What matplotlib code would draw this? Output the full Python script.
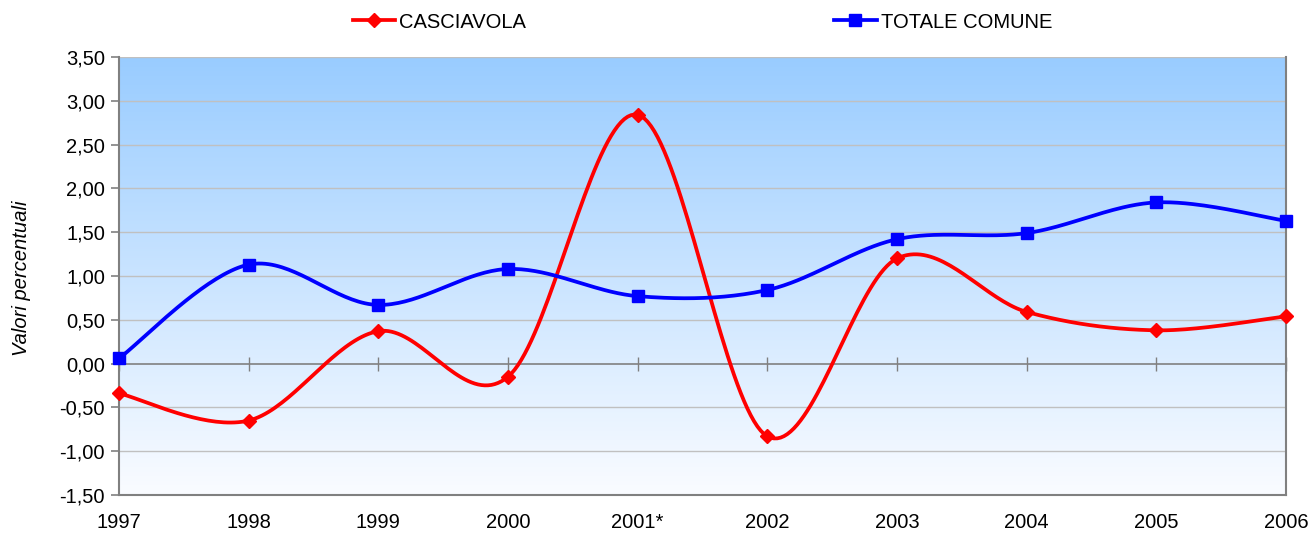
import numpy as np
import matplotlib
matplotlib.use("Agg")
import matplotlib.pyplot as plt
from matplotlib import font_manager
from matplotlib.lines import Line2D

years = ["1997", "1998", "1999", "2000", "2001*", "2002", "2003", "2004", "2005", "2006"]
casciavola = [-0.34, -0.65, 0.37, -0.15, 2.84, -0.83, 1.20, 0.59, 0.38, 0.54]
totale = [0.06, 1.13, 0.67, 1.08, 0.77, 0.84, 1.42, 1.49, 1.84, 1.63]
yticks = [-1.5, -1.0, -0.5, 0.0, 0.5, 1.0, 1.5, 2.0, 2.5, 3.0, 3.5]

names = {f.name for f in font_manager.fontManager.ttflist}
base_font = "Liberation Sans" if "Liberation Sans" in names else "DejaVu Sans"
plt.rcParams["font.family"] = [base_font, "DejaVu Sans"]


def smooth(xs, ys, n=40):
    xs = np.asarray(xs, float)
    ys = np.asarray(ys, float)
    P = np.column_stack([xs, ys])
    out = []
    for i in range(len(P) - 1):
        p0 = P[i - 1] if i > 0 else P[i]
        p1 = P[i]
        p2 = P[i + 1]
        p3 = P[i + 2] if i + 2 < len(P) else P[i + 1]
        c1 = p1 + (p2 - p0) / 6.0
        c2 = p2 - (p3 - p1) / 6.0
        t = np.linspace(0, 1, n)[:, None]
        seg = ((1 - t) ** 3) * p1 + 3 * ((1 - t) ** 2) * t * c1 + 3 * (1 - t) * t ** 2 * c2 + t ** 3 * p2
        out.append(seg if i == 0 else seg[1:])
    S = np.vstack(out)
    return S[:, 0], S[:, 1]


FS = 14.5
fig = plt.figure(figsize=(13.1, 5.33), dpi=100)
ax = fig.add_axes([119 / 1310, 38 / 533, (1286 - 119) / 1310, (495 - 57) / 533])

x = np.arange(len(years))
ax.set_xlim(0, len(years) - 1)
ax.set_ylim(-1.5, 3.5)

# gradient background
top = np.array([153, 204, 255]) / 255.0
bot = np.array([250, 252, 255]) / 255.0
tt = np.linspace(0, 1, 256)[:, None]
grad = (top * (1 - tt) + bot * tt)[:, None, :]
ax.imshow(grad, aspect="auto", extent=[0, 1, 0, 1], transform=ax.transAxes, zorder=0, interpolation="bilinear")

for v in yticks:
    if v != 0:
        ax.axhline(v, color="#C0C0C0", lw=1.0, zorder=1)
ax.axhline(0, color="#808080", lw=1.2, zorder=1.5)

LW = 2.7
sx, sy = smooth(x, casciavola)
ax.plot(sx, sy, color="#FF0000", lw=LW, zorder=3, solid_capstyle="round")
ax.plot(x, casciavola, linestyle="none", marker="D", color="#FF0000", markersize=7, zorder=4, clip_on=False)
sx, sy = smooth(x, totale)
ax.plot(sx, sy, color="#0000FF", lw=LW, zorder=3, solid_capstyle="round")
ax.plot(x, totale, linestyle="none", marker="s", color="#0000FF", markersize=8, zorder=4, clip_on=False)

ax.set_yticks(yticks)
ax.set_yticklabels([f"{v:.2f}".replace(".", ",") for v in yticks], fontsize=FS)
ax.set_xticks(x)
ax.set_xticklabels(years, fontsize=FS)
ax.tick_params(axis="x", length=0, pad=13)
ax.tick_params(axis="y", length=6, color="#808080", width=1.2, pad=4)

ax.spines["top"].set_visible(False)
for s in ["left", "bottom", "right"]:
    ax.spines[s].set_color("#808080")
    ax.spines[s].set_linewidth(1.5)

sec = ax.secondary_xaxis(1.5 / 5.0)
sec.set_xticks(x)
sec.set_xticklabels([])
sec.tick_params(axis="x", direction="inout", length=10, color="#808080", width=1.0)
sec.spines["bottom"].set_visible(False)
sec.spines["top"].set_visible(False)

fig.text(22 / 1310, 1 - 278 / 533, "Valori percentuali", rotation=90, ha="center", va="center",
         fontsize=FS, style="italic")

h1 = Line2D([], [], color="#FF0000", lw=LW, marker="D", markersize=7)
h2 = Line2D([], [], color="#0000FF", lw=LW, marker="s", markersize=8)
leg = fig.legend([h1, h2], ["CASCIAVOLA", "TOTALE COMUNE"], loc="center left",
                 bbox_to_anchor=(353 / 1310, 1 - 22 / 533), ncol=2, frameon=False,
                 handlelength=2.1, handletextpad=0.2, columnspacing=15.3,
                 borderpad=0, borderaxespad=0, prop={"size": FS})

fig.savefig("out.png", dpi=100)
